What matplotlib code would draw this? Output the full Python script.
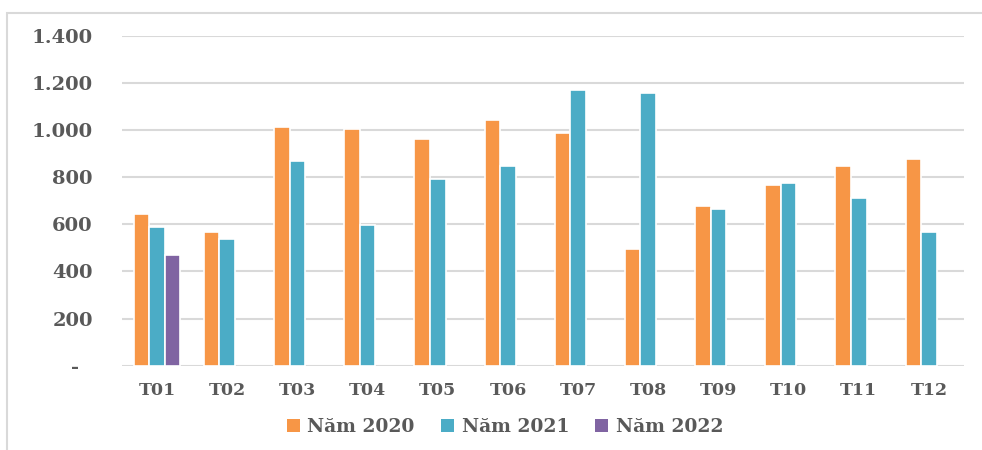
import numpy as np
import matplotlib
matplotlib.use("Agg")
import matplotlib.pyplot as plt
from matplotlib.patches import Rectangle, Patch

# Monthly values per year
months = ["T01", "T02", "T03", "T04", "T05", "T06",
          "T07", "T08", "T09", "T10", "T11", "T12"]
nam_2020 = [645, 566, 1014, 1003, 960, 1044, 986, 495, 678, 767, 847, 876]
nam_2021 = [590, 536, 867, 598, 792, 847, 1170, 1157, 666, 775, 711, 566]
nam_2022 = [468]
series_names = ["Năm 2020", "Năm 2021", "Năm 2022"]
y_ticks = [0, 200, 400, 600, 800, 1000, 1200, 1400]
y_tick_labels = ["-  ", "200", "400", "600", "800", "1.000", "1.200", "1.400"]

colors = ["#F79646", "#4BACC6", "#8064A2"]
text_color = "#595959"
grid_color = "#D9D9D9"
family = "DejaVu Serif"

W, H = 982, 450
fig = plt.figure(figsize=(W / 100, H / 100), dpi=100)

# Chart frame (runs past the right and bottom edges)
frame = Rectangle((7 / W, -0.05), 1.0, 1 - 13 / H + 0.05,
                  transform=fig.transFigure, fill=False,
                  edgecolor=grid_color, linewidth=1.5, zorder=0)
fig.patches.append(frame)

ax = fig.add_axes([122 / W, 1 - 365.7 / H, (964 - 122) / W, 330 / H])

x = np.arange(len(months))
w = 1 / 4.5
all_series = [nam_2020, nam_2021, nam_2022]
for i, (vals, col) in enumerate(zip(all_series, colors)):
    xs = x[:len(vals)] + (i - 1) * w
    ax.bar(xs, vals, width=w, color=col, edgecolor="white",
           linewidth=1.2, zorder=3)

ax.set_xlim(-0.5, len(months) - 0.5)
ax.set_ylim(0, 1400)
ax.set_yticks(y_ticks)
ax.set_yticklabels(y_tick_labels)
ax.set_xticks(x)
ax.set_xticklabels(months)
for lab in ax.get_yticklabels():
    lab.set_fontfamily(family)
    lab.set_fontweight("bold")
    lab.set_fontsize(14)
    lab.set_color(text_color)
for lab in ax.get_xticklabels():
    lab.set_fontfamily(family)
    lab.set_fontweight("bold")
    lab.set_fontsize(12.5)
    lab.set_color(text_color)

ax.tick_params(axis="y", length=0, pad=21)
ax.tick_params(axis="x", length=0, pad=12)
ax.grid(axis="y", color=grid_color, linewidth=1.5, zorder=0)
ax.set_axisbelow(True)
for s in ax.spines.values():
    s.set_visible(False)

handles = [Patch(facecolor=c, edgecolor="none") for c in colors]
leg = fig.legend(handles, series_names, loc="center",
                 bbox_to_anchor=(505 / W, 1 - 427 / H), ncol=3,
                 frameon=False, handlelength=0.7, handleheight=0.7,
                 handletextpad=0.4, columnspacing=1.4,
                 prop=dict(family=family, weight="bold", size=13.5))
for t in leg.get_texts():
    t.set_color(text_color)

fig.savefig("out.png", dpi=100)
